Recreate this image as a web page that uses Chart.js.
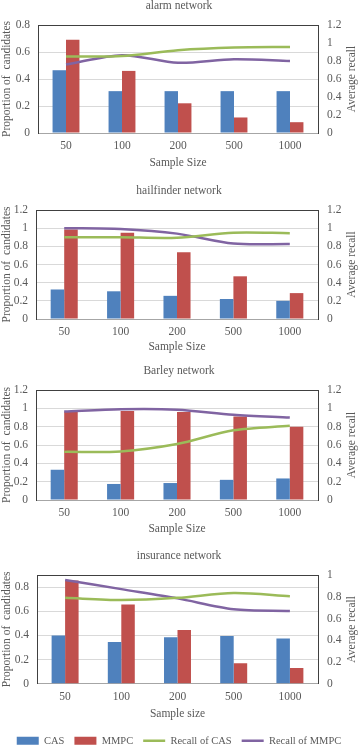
<!DOCTYPE html>
<html>
<head>
<meta charset="utf-8">
<script src="https://cdn.jsdelivr.net/npm/chart.js@4/dist/chart.umd.min.js"></script>
<style>
html, body { margin: 0; padding: 0; background: #fff; overflow: hidden; }
.box { position: absolute; left: 0; width: 358px; }
</style>
</head>
<body>
<div class="box" id="b1"><canvas id="c1"></canvas></div>
<div class="box" id="b2"><canvas id="c2"></canvas></div>
<div class="box" id="b3"><canvas id="c3"></canvas></div>
<div class="box" id="b4"><canvas id="c4"></canvas></div>
<script>
// data
const sampleSizes = ['50', '100', '200', '500', '1000'];

const alarmCas = [0.465, 0.31, 0.31, 0.31, 0.31];
const alarmMmpc = [0.69, 0.46, 0.22, 0.115, 0.08];
const alarmRecallCas = [0.85, 0.855, 0.92, 0.95, 0.955];
const alarmRecallMmpc = [0.76, 0.865, 0.78, 0.82, 0.80];

const hailCas = [0.325, 0.305, 0.255, 0.22, 0.20];
const hailMmpc = [0.985, 0.95, 0.735, 0.47, 0.285];
const hailRecallCas = [0.90, 0.90, 0.895, 0.95, 0.945];
const hailRecallMmpc = [1.0, 0.99, 0.94, 0.83, 0.825];

const barleyCas = [0.33, 0.175, 0.185, 0.22, 0.235];
const barleyMmpc = [0.965, 0.97, 0.96, 0.91, 0.80];
const barleyRecallCas = [0.525, 0.53, 0.61, 0.76, 0.81];
const barleyRecallMmpc = [0.965, 0.99, 0.985, 0.93, 0.90];

const insCas = [0.40, 0.345, 0.385, 0.395, 0.375];
const insMmpc = [0.855, 0.655, 0.445, 0.17, 0.13];
const insRecallCas = [0.79, 0.77, 0.79, 0.835, 0.805];
const insRecallMmpc = [0.955, 0.87, 0.785, 0.685, 0.67];

const seriesNames = ['CAS', 'MMPC', 'Recall of CAS', 'Recall of MMPC'];

const FONT = '"Liberation Serif", "DejaVu Serif", serif';
const GREY = '#595959';

// top border of the plot and the right axis title (bottom-to-top like Excel)
const frame = {
  id: 'frame',
  afterDraw(chart) {
    const {ctx, chartArea} = chart;
    ctx.save();
    ctx.strokeStyle = '#404040';
    ctx.lineWidth = 1;
    ctx.beginPath();
    ctx.moveTo(chartArea.left, chartArea.top + 0.5);
    ctx.lineTo(chartArea.right, chartArea.top + 0.5);
    ctx.stroke();
    ctx.translate(352, (chartArea.top + chartArea.bottom) / 2);
    ctx.rotate(-Math.PI / 2);
    ctx.font = '11.5px ' + FONT;
    ctx.fillStyle = GREY;
    ctx.textAlign = 'center';
    ctx.textBaseline = 'middle';
    ctx.fillText('Average recall', 0, 0);
    ctx.restore();
  }
};

function fmt(v) { return String(+v.toFixed(2)); }

function makeChart(o) {
  const box = document.getElementById(o.box);
  box.style.top = o.top + 'px';
  box.style.height = o.height + 'px';

  new Chart(document.getElementById(o.canvas), {
    type: 'bar',
    data: {
      labels: sampleSizes,
      datasets: [
        { label: seriesNames[0], data: o.cas, backgroundColor: '#4F81BD', yAxisID: 'y', order: 2,
          pointStyle: 'rect', barPercentage: 1, categoryPercentage: 0.48 },
        { label: seriesNames[1], data: o.mmpc, backgroundColor: '#C0504D', yAxisID: 'y', order: 2,
          pointStyle: 'rect', barPercentage: 1, categoryPercentage: 0.48 },
        { type: 'line', label: seriesNames[2], data: o.recCas, borderColor: '#9BBB59', backgroundColor: '#9BBB59',
          borderWidth: 2.5, pointRadius: 0, tension: 0.3, yAxisID: 'y1', order: 1, pointStyle: 'line' },
        { type: 'line', label: seriesNames[3], data: o.recMmpc, borderColor: '#8064A2', backgroundColor: '#8064A2',
          borderWidth: 2.5, pointRadius: 0, tension: 0.3, yAxisID: 'y1', order: 1, pointStyle: 'line' }
      ]
    },
    options: {
      responsive: true,
      maintainAspectRatio: false,
      animation: false,
      layout: { padding: 0 },
      plugins: {
        title: {
          display: true, text: o.title, color: GREY,
          font: { family: FONT, size: 11.5, weight: 'normal', lineHeight: 1.2 },
          padding: { top: 0, bottom: 12.2 }
        },
        legend: {
          display: !!o.legend,
          position: 'bottom',
          labels: {
            usePointStyle: true, pointStyleWidth: 22, boxHeight: 8, padding: 10,
            color: GREY, font: { family: FONT, size: 10.5 },
            sort: (a, b) => a.datasetIndex - b.datasetIndex
          }
        },
        tooltip: { enabled: false }
      },
      scales: {
        x: {
          grid: { display: false, drawTicks: false },
          border: { color: '#a6a6a6' },
          ticks: { color: GREY, font: { family: FONT, size: 11.5 }, padding: 6 },
          title: { display: true, text: o.xTitle, color: GREY, font: { family: FONT, size: 11.5 },
                   padding: { top: 0, bottom: o.xPad } },
          afterFit: s => { s.height = o.xh; }
        },
        y: {
          position: 'left', min: 0, max: o.yMax,
          grid: { color: '#d9d9d9', drawTicks: false },
          border: { color: '#404040' },
          ticks: { stepSize: o.yStep, color: GREY, font: { family: FONT, size: 11.5 }, padding: 8, callback: fmt },
          title: { display: true, text: 'Proportion of  candidates', color: GREY, font: { family: FONT, size: 11.5 },
                   padding: 0 },
          afterFit: s => { s.width = o.left; }
        },
        y1: {
          position: 'right', min: 0, max: o.y1Max,
          grid: { display: false, drawTicks: false },
          border: { color: '#404040' },
          ticks: { stepSize: o.y1Step, color: GREY, font: { family: FONT, size: 11.5 }, padding: 9, callback: fmt },
          afterFit: s => { s.width = 40; }
        }
      }
    },
    plugins: [frame]
  });
}

makeChart({ box: 'b1', canvas: 'c1', top: -1, height: 179, left: 38, xh: 45, xPad: 8,
  title: 'alarm network', xTitle: 'Sample Size',
  cas: alarmCas, mmpc: alarmMmpc, recCas: alarmRecallCas, recMmpc: alarmRecallMmpc,
  yMax: 0.8, yStep: 0.2, y1Max: 1.2, y1Step: 0.2 });

makeChart({ box: 'b2', canvas: 'c2', top: 184, height: 180, left: 36, xh: 45, xPad: 10,
  title: 'hailfinder network', xTitle: 'Sample Size',
  cas: hailCas, mmpc: hailMmpc, recCas: hailRecallCas, recMmpc: hailRecallMmpc,
  yMax: 1.2, yStep: 0.2, y1Max: 1.2, y1Step: 0.2 });

makeChart({ box: 'b3', canvas: 'c3', top: 364, height: 181, left: 36, xh: 45, xPad: 9,
  title: 'Barley network', xTitle: 'Sample Size',
  cas: barleyCas, mmpc: barleyMmpc, recCas: barleyRecallCas, recMmpc: barleyRecallMmpc,
  yMax: 1.2, yStep: 0.2, y1Max: 1.2, y1Step: 0.2 });

makeChart({ box: 'b4', canvas: 'c4', top: 549, height: 207, left: 37, xh: 41.75, xPad: 5, legend: true,
  title: 'insurance network', xTitle: 'Sample size',
  cas: insCas, mmpc: insMmpc, recCas: insRecallCas, recMmpc: insRecallMmpc,
  yMax: 0.9, yStep: 0.1, y1Max: 1, y1Step: 0.2 });
</script>
</body>
</html>
